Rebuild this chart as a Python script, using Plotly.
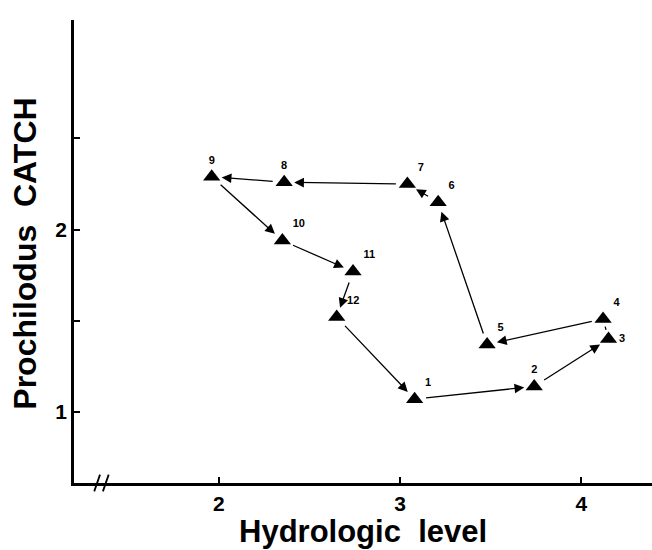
import plotly.graph_objects as go

# Data
months = ["1", "2", "3", "4", "5", "6", "7", "8", "9", "10", "11", "12"]
hydro_level = [3.08, 3.74, 4.15, 4.12, 3.48, 3.21, 3.04, 2.36, 1.96, 2.35, 2.74, 2.65]
catch = [1.07, 1.14, 1.40, 1.51, 1.37, 2.15, 2.25, 2.26, 2.29, 1.94, 1.77, 1.52]

x_ticks = [2, 3, 4]
x_ticktext = ["2", "3", "4"]
y_ticks = [1, 1.5, 2, 2.5]
y_ticktext = ["1", "", "2", ""]

label_pos = ["top right", "top center", "middle right", "top right", "top right",
             "top right", "top right", "top center", "top center", "top right",
             "top right", "top right"]

FONT = "Liberation Sans, Arial, Helvetica, sans-serif"
NB = "\u00a0"

fig = go.Figure()
fig.add_trace(go.Scatter(
    x=hydro_level, y=catch, mode="markers+text",
    marker=dict(symbol="triangle-up", size=15, color="black"),
    text=months, textposition=label_pos,
    textfont=dict(family=FONT, size=11, color="black", weight="bold"),
    showlegend=False, cliponaxis=False,
))

annotations = []
n = len(months)
for i in range(n):
    j = (i + 1) % n
    short = (i == 2)
    annotations.append(dict(
        x=hydro_level[j], y=catch[j], ax=hydro_level[i], ay=catch[i],
        xref="x", yref="y", axref="x", ayref="y",
        showarrow=True, text="",
        arrowhead=0 if short else 2, arrowsize=1.5, arrowwidth=1.3,
        arrowcolor="black",
        standoff=8 if short else 10, startstandoff=8 if short else 10,
    ))

annotations.append(dict(
    text="Hydrologic" + NB + NB + "level", xref="paper", yref="paper",
    x=0.5, y=-0.104, showarrow=False, xanchor="center", yanchor="middle",
    font=dict(family=FONT, size=31, color="black", weight="bold"),
))
annotations.append(dict(
    text="Prochilodus" + NB + NB + "CATCH", xref="paper", yref="paper",
    x=-0.085, y=0.495, showarrow=False, xanchor="center", yanchor="middle",
    textangle=-90,
    font=dict(family=FONT, size=32, color="black", weight="bold"),
))

# axis break marks
shapes = []
for px0 in [0.035, 0.050]:
    shapes.append(dict(type="line", xref="paper", yref="paper",
                       x0=px0, y0=-0.018, x1=px0 + 0.010, y1=0.018,
                       line=dict(color="black", width=1.8)))

fig.update_layout(
    width=652, height=550,
    margin=dict(l=74, r=0, t=20, b=67),
    paper_bgcolor="white", plot_bgcolor="white",
    annotations=annotations, shapes=shapes,
    xaxis=dict(range=[1.20, 4.39], showgrid=False, zeroline=False,
               showline=True, linecolor="black", linewidth=2.5,
               ticks="inside", ticklen=6, tickwidth=1.5, tickcolor="black",
               tickvals=x_ticks, ticktext=x_ticktext,
               tickfont=dict(family=FONT, size=21, color="black", weight="bold")),
    yaxis=dict(range=[0.61, 3.15], showgrid=False, zeroline=False,
               showline=True, linecolor="black", linewidth=2.5,
               ticks="inside", ticklen=6, tickwidth=1.5, tickcolor="black",
               tickvals=y_ticks, ticktext=y_ticktext,
               tickfont=dict(family=FONT, size=21, color="black", weight="bold")),
)

fig.write_html("out.html")
